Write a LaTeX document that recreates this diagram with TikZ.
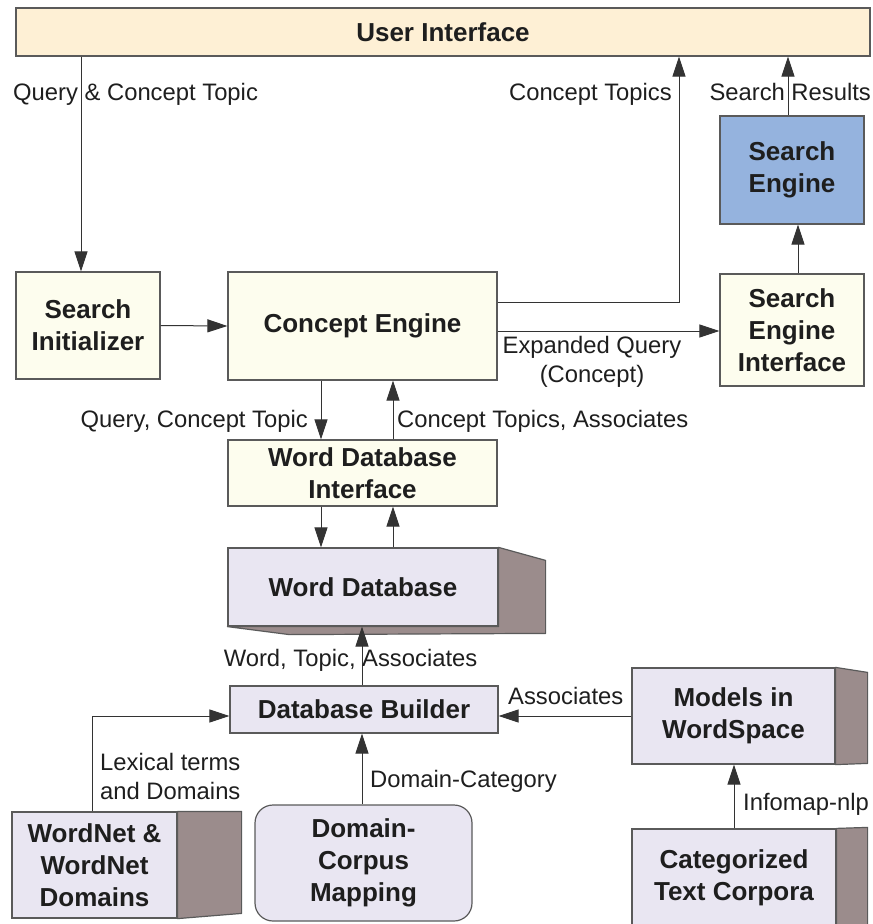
\documentclass[tikz,border=0pt]{standalone}
\usepackage{fontspec}
\setmainfont{Liberation Sans}
\usetikzlibrary{arrows.meta,calc}

\definecolor{uifill}{HTML}{FEF0D5}
\definecolor{cream}{HTML}{FDFDEE}
\definecolor{lav}{HTML}{E9E6F2}
\definecolor{sidefill}{HTML}{9B8C8C}
\definecolor{engblue}{HTML}{95B3DE}
\definecolor{boxline}{HTML}{5A5A5A}
\definecolor{wire}{HTML}{333333}
\definecolor{ink}{HTML}{1E1E1E}

\tikzset{
  box/.style={draw=boxline, line width=1.2pt, inner sep=0pt, align=center,
    text=ink, font=\bfseries\fontsize{26}{32}\selectfont},
  creambox/.style={box, fill=cream},
  lavbox/.style={box, fill=lav},
  sideface/.style={fill=sidefill, draw=boxline, line width=1.2pt, line join=round},
  lab/.style={inner sep=0pt, text=ink, font=\fontsize{23.8}{29}\selectfont},
  arr/.style={draw=wire, line width=1pt, -{Triangle[length=20pt,width=13pt]}},
  wireline/.style={draw=wire, line width=1pt}
}

\begin{document}
\begin{tikzpicture}[x=1pt,y=-1pt]
\useasboundingbox (0,0) rectangle (873,924);

% boxes
\node[box, fill=uifill, minimum width=854pt, minimum height=48pt] (ui) at (443,32) {User Interface};
\node[creambox, minimum width=144pt, minimum height=107pt] (si) at (88,325.5) {Search\\Initializer};
\node[creambox, minimum width=269pt, minimum height=108pt] (ce) at (362.5,326) {Concept Engine};
\node[creambox, minimum width=144pt, minimum height=112pt] (sei) at (792,330) {Search\\Engine\\Interface};
\node[box, fill=engblue, minimum width=144pt, minimum height=108pt] (se) at (792,170) {Search\\Engine};
\node[creambox, minimum width=269pt, minimum height=66pt] (wdi) at (362.5,473) {Word Database\\Interface};

% word database with its depth
\node[lavbox, minimum width=270pt, minimum height=78pt] (wd) at (363,587) {Word Database};
\fill[sideface] (wd.north east) -- ++(47,13) -- ++(0,73) -- ($(wd.south west)+(62,8)$)
  -- (wd.south west) -- (wd.south east) -- cycle;

\node[lavbox, minimum width=268pt, minimum height=47pt] (db) at (364,709.5) {Database Builder};

% models in wordspace
\node[lavbox, minimum width=203pt, minimum height=96pt] (models) at (733.5,716) {Models in\\WordSpace};
\fill[sideface] (models.north east) -- ++(32,5) -- ++(0,91) -- (models.south east) -- cycle;

% categorized text corpora
\node[lavbox, minimum width=204pt, minimum height=97pt] (ctc) at (734,877.5) {Categorized\\Text Corpora};
\fill[sideface] (ctc.north east) -- ++(31,-1) -- ++(0,110) -- ($(ctc.north east)+(0,110)$) -- cycle;

% wordnet
\node[lavbox, minimum width=165pt, minimum height=106pt] (wn) at (94.5,865) {WordNet \&\\WordNet\\Domains};
\fill[sideface] (wn.north east) -- ++(64,0) -- ++(0,102) -- (wn.south east) -- cycle;

% domain-corpus mapping
\node[lavbox, rounded corners=18pt, minimum width=217pt, minimum height=116pt] (dcm) at (363.5,863) {Domain-\\Corpus\\Mapping};

% connectors
\draw[arr] (ui.south -| 81,0) -- (si.north -| 81,0);
\draw[arr] (si.east) -- (ce.west);
\draw[arr] (ce.east |- 0,302) -| (ui.south -| 679,0);
\draw[arr] (ce.east |- 0,331) -- (sei.west |- 0,331);
\draw[arr] (sei.north -| 798,0) -- (se.south -| 798,0);
\draw[arr] (se.north -| 788,0) -- (ui.south -| 788,0);
\draw[arr] (ce.south -| 321,0) -- (wdi.north -| 321,0);
\draw[arr] (wdi.north -| 393,0) -- (ce.south -| 393,0);
\draw[arr] (wdi.south -| 321,0) -- (wd.north -| 321,0);
\draw[arr] (wd.north -| 393,0) -- (wdi.south -| 393,0);
\draw[arr] (db.north -| 362,0) -- (wd.south -| 362,0);
\draw[arr] (models.west |- 0,716) -- (db.east |- 0,716);
\draw[arr] (wn.north -| 92,0) |- (db.west |- 0,716);
\draw[arr] (dcm.north -| 362,0) -- (db.south -| 362,0);
\draw[arr] (ctc.north -| 734,0) -- (models.south -| 734,0);

% connector labels
\node[lab, anchor=west] (lq) at (13,94) {Query \& Concept Topic};
\node[lab, anchor=east] (lct) at (672,94) {Concept Topics};
\node[lab, anchor=west] (lsr) at (709.3,92) {Search Results};
\node[lab, align=center] (leq) at (592,362) {Expanded Query\\(Concept)};
\node[lab, anchor=east] (lqc) at (308,421) {Query, Concept Topic};
\node[lab, anchor=west] (lca) at (397,421) {Concept Topics, Associates};
\node[lab, anchor=west] (lwt) at (223.6,660) {Word, Topic, Associates};
\node[lab, anchor=west] (las) at (508,696) {Associates};
\node[lab, anchor=west, align=left] (llx) at (100,776) {Lexical terms\\and Domains};
\node[lab, anchor=west] (ldc) at (370,781) {Domain-Category};
\node[lab, anchor=west] (lin) at (743,804) {Infomap-nlp};
\end{tikzpicture}
\end{document}
